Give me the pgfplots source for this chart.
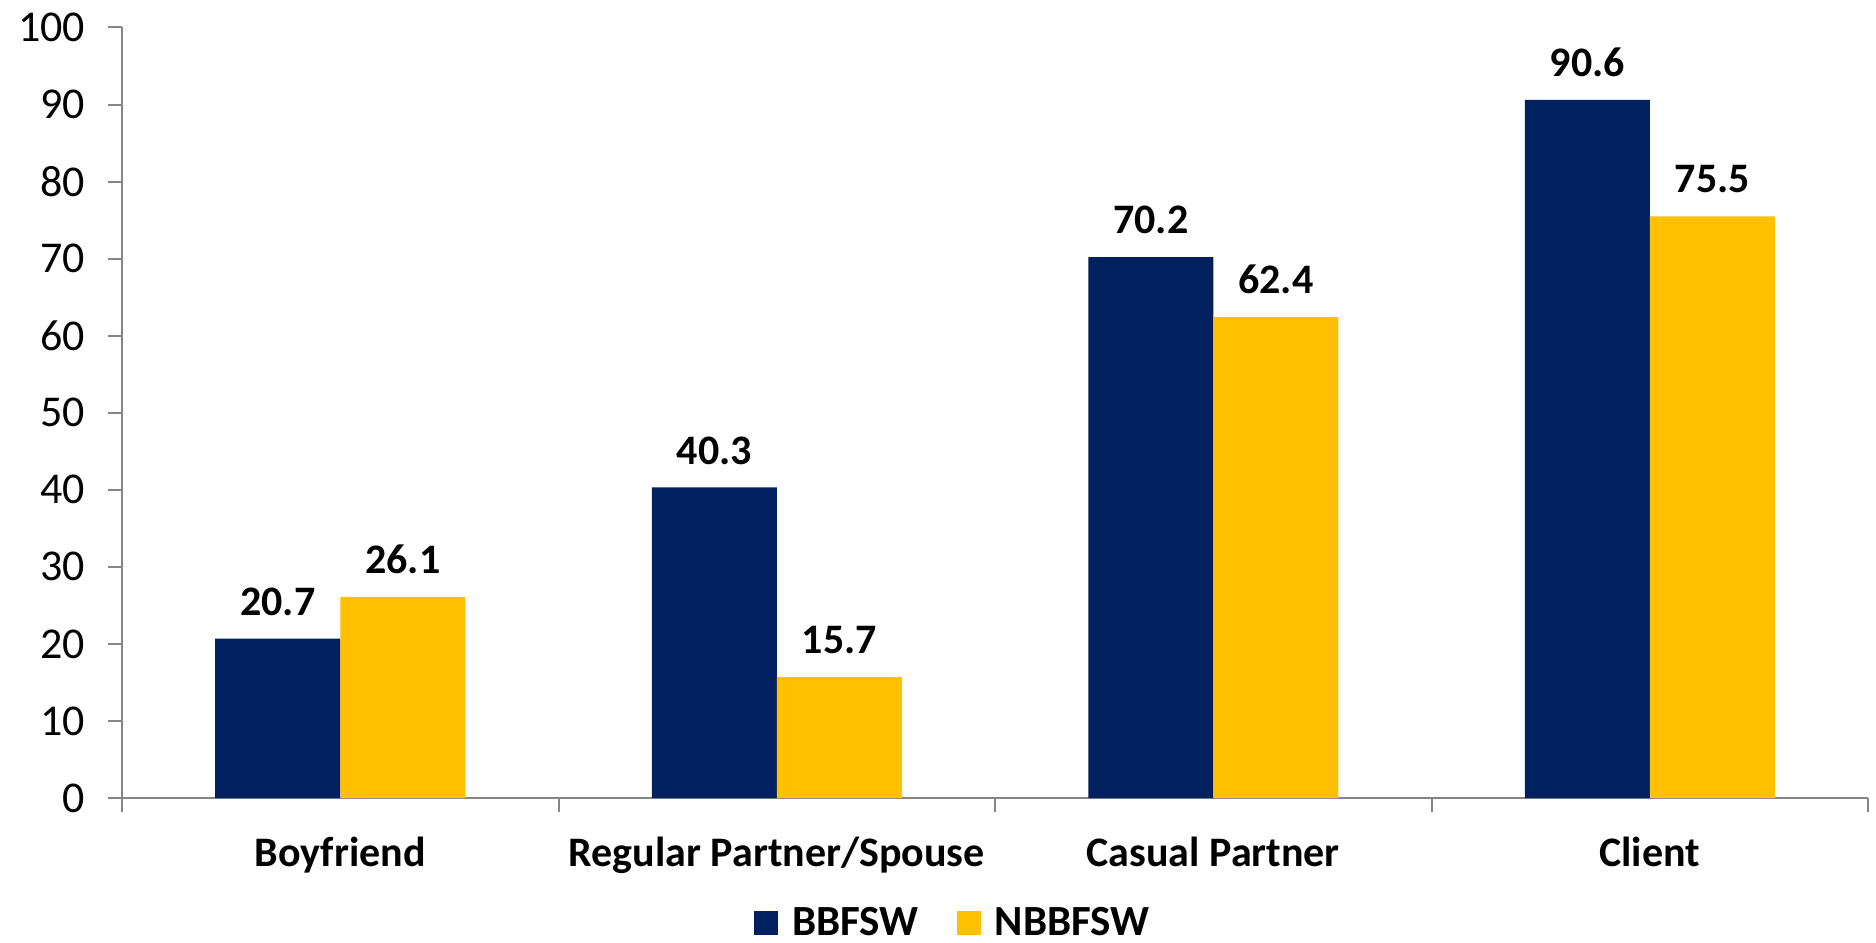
\documentclass[border=0pt]{standalone}
\usepackage{pgfplots}
\pgfplotsset{compat=1.18}
\usepackage{fontspec}
\setmainfont{Carlito}
\definecolor{navy}{HTML}{002060}
\definecolor{gold}{HTML}{FFC000}
\definecolor{axgray}{HTML}{868686}
\begin{document}
\begin{tikzpicture}
\useasboundingbox (-61pt,-72.5pt) rectangle (877pt,399pt);
\begin{axis}[
  at={(0,0)}, anchor=south west,
  scale only axis,
  width=873pt, height=385.25pt,
  ybar=0pt, bar width=62.5pt,
  xmin=-0.5, xmax=3.5,
  ymin=0, ymax=100,
  ytick={0,10,...,100},
  xtick={0,1,2,3},
  xticklabels={Boyfriend, Regular Partner/Spouse, Casual Partner, Client},
  minor xtick={-0.5,0.5,1.5,2.5,3.5},
  major x tick style={draw=none},
  minor tick length=7pt,
  major tick length=7pt,
  tick align=outside,
  axis x line*=bottom, axis y line*=left,
  axis line style={axgray, line width=1pt},
  every tick/.style={axgray, line width=1pt},
  tick style={axgray, line width=1pt},
  /pgf/number format/assume math mode=true,
  yticklabel style={font=\fontsize{22}{26}\selectfont, xshift=-8pt},
  xticklabel style={font=\fontsize{21}{25}\selectfont\bfseries, yshift=-9pt},
  point meta=explicit symbolic,
  nodes near coords,
  every node near coord/.append style={font=\fontsize{21}{25}\selectfont\bfseries, black, yshift=8pt},
  legend style={at={(0.4765,-0.162)}, anchor=center, draw=none, legend columns=2,
    font=\fontsize{21.5}{25}\selectfont\bfseries,
    /tikz/every odd column/.append style={column sep=5pt},
    /tikz/every even column/.append style={column sep=17pt}},
  legend image code/.code={\fill[#1, draw=none] (0pt,-6pt) rectangle (12pt,6pt);},
  clip=false,
]
\addplot[fill=navy, draw=none] coordinates {(0,20.7) [20.7] (1,40.3) [40.3] (2,70.2) [70.2] (3,90.6) [90.6]};
\addplot[fill=gold, draw=none] coordinates {(0,26.1) [26.1] (1,15.7) [15.7] (2,62.4) [62.4] (3,75.5) [75.5]};
\legend{BBFSW, NBBFSW}
\end{axis}
\end{tikzpicture}
\end{document}
